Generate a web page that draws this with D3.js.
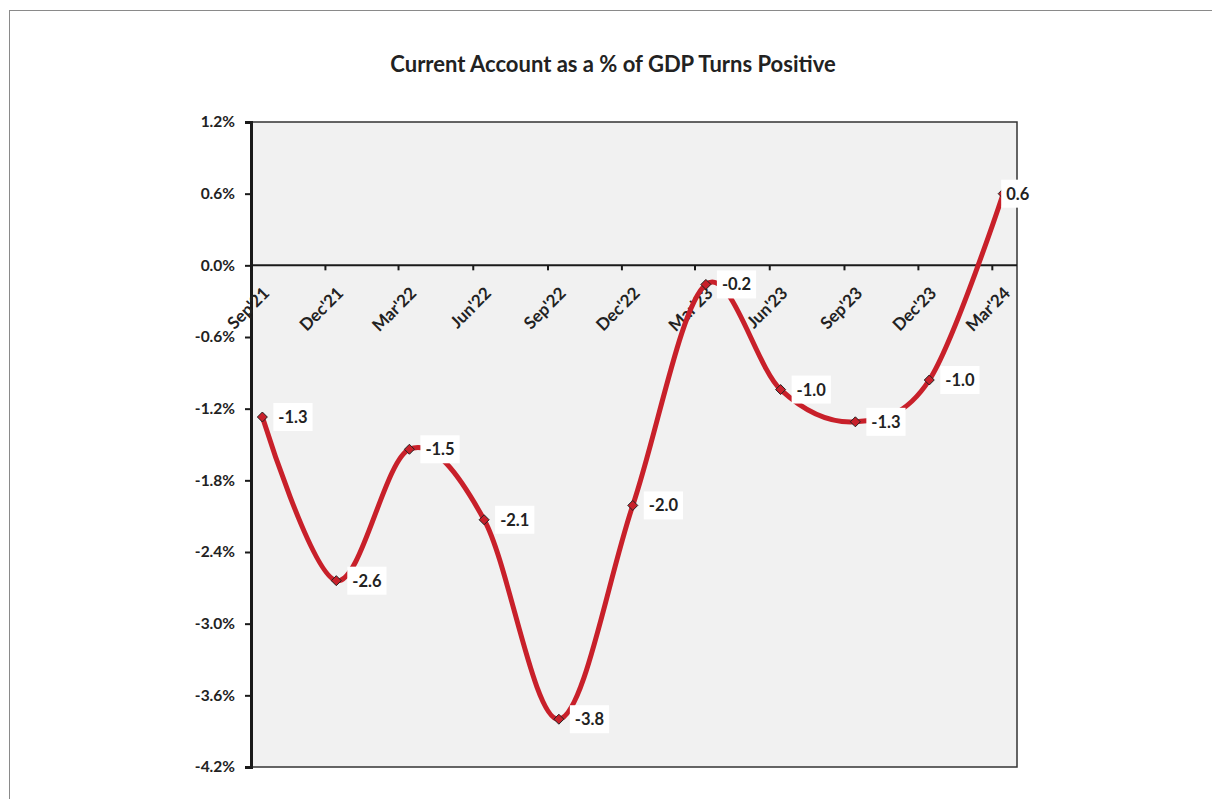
<!DOCTYPE html>
<html><head><meta charset="utf-8">
<script src="https://cdn.jsdelivr.net/npm/d3@7"></script>
<style>body{margin:0;background:#fff} svg{display:block}</style>
</head><body>
<svg id="c" width="1212" height="799"></svg>
<script>
const title = "Current Account as a % of GDP Turns Positive";
const categories = ["Sep'21","Dec'21","Mar'22","Jun'22","Sep'22","Dec'22","Mar'23","Jun'23","Sep'23","Dec'23","Mar'24"];
const tickDates = ["2021-09-01","2021-12-01","2022-03-01","2022-06-01","2022-09-01","2022-12-01","2023-03-01","2023-06-01","2023-09-01","2023-12-01","2024-03-01"];
const pointDates = ["2021-09-15","2021-12-15","2022-03-15","2022-06-15","2022-09-15","2022-12-15","2023-03-15","2023-06-15","2023-09-15","2023-12-15","2024-03-15"];
const values = [-1.27,-2.64,-1.54,-2.13,-3.80,-2.01,-0.16,-1.04,-1.31,-0.96,0.60];
const yTicks = [1.2,0.6,0.0,-0.6,-1.2,-1.8,-2.4,-3.0,-3.6,-4.2];

const FONT = "Lato, 'Open Sans', sans-serif";
const svg = d3.select("#c");
const pL = 251, pR = 1017, pT = 122, pB = 767;
const parse = d3.utcParse("%Y-%m-%d");
const fmt1 = v => (Math.abs(v) < 1e-9 ? 0 : v).toFixed(1);

const x = d3.scaleUtc().domain([parse("2021-09-01"), parse("2024-04-01")]).range([pL, pR]);
const y = d3.scaleLinear().domain([-4.2, 1.2]).range([pB, pT]);

// outer chart border
svg.append("rect").attr("x", 9.5).attr("y", 10.5).attr("width", 1300).attr("height", 900)
  .attr("fill", "#fff").attr("stroke", "#8a8a8a").attr("stroke-width", 1);

// title
svg.append("text").attr("x", 613).attr("y", 72).attr("text-anchor", "middle")
  .attr("font-family", FONT).attr("font-weight", "bold").attr("font-size", 22)
  .attr("fill", "#222").text(title);

// plot area
svg.append("rect").attr("x", pL).attr("y", pT).attr("width", pR - pL).attr("height", pB - pT)
  .attr("fill", "#f1f1f1").attr("stroke", "#333").attr("stroke-width", 1.5);

// y axis
const yAxis = d3.axisLeft(y).tickValues(yTicks).tickSize(6).tickPadding(10)
  .tickFormat(d => fmt1(d) + "%");
const gy = svg.append("g").attr("transform", `translate(${pL},0)`).call(yAxis);
gy.select(".domain").attr("stroke", "#1a1a1a").attr("stroke-width", 3);
gy.selectAll(".tick line").attr("stroke", "#1a1a1a").attr("stroke-width", 2);
gy.selectAll(".tick text").attr("font-family", FONT).attr("font-weight", "bold")
  .attr("font-size", 15.5).attr("fill", "#222");

// x axis on the zero line
const xAxis = d3.axisBottom(x).tickValues(tickDates.map(parse)).tickSize(5).tickFormat((d, i) => categories[i]);
const gx = svg.append("g").attr("transform", `translate(0,${y(0)})`).call(xAxis);
gx.select(".domain").attr("stroke", "#1a1a1a").attr("stroke-width", 2).attr("d", `M${pL},0H${pR}`);
gx.selectAll(".tick line").attr("stroke", "#1a1a1a").attr("stroke-width", 2);
gx.selectAll(".tick text").attr("font-family", FONT).attr("font-weight", "bold")
  .attr("font-size", 17).attr("fill", "#222")
  .attr("text-anchor", "end").attr("dy", null).attr("y", null)
  .attr("transform", "translate(19,29) rotate(-45)");

// line
const pts = pointDates.map((d, i) => [x(parse(d)), y(values[i])]);
const line = d3.line().curve(d3.curveCardinal.tension(0));
svg.append("path").attr("d", line(pts)).attr("fill", "none")
  .attr("stroke", "#c8202a").attr("stroke-width", 5).attr("stroke-linejoin", "round");

// markers
svg.selectAll("path.mk").data(pts).join("path").attr("class", "mk")
  .attr("transform", d => `translate(${d[0]},${d[1]})`)
  .attr("d", "M0,-5L5,0L0,5L-5,0Z")
  .attr("fill", "#c8202a").attr("stroke", "#222").attr("stroke-width", 1);

// data labels
const lbl = svg.selectAll("g.lbl").data(pts).join("g").attr("class", "lbl")
  .attr("transform", (d, i) => `translate(${d[0] + (i === pts.length - 1 ? -2 : 11)},${d[1]})`);
lbl.each(function(d, i) {
  const g = d3.select(this);
  const r = g.append("rect").attr("y", -14).attr("height", 28).attr("fill", "#fff");
  const t = g.append("text").attr("x", 5).attr("y", 6)
    .attr("font-family", FONT).attr("font-weight", "bold").attr("font-size", 16.5)
    .attr("fill", "#222").text(fmt1(values[i]));
  const w = t.node().getComputedTextLength();
  r.attr("width", w + 10);
});
</script>
</body></html>
